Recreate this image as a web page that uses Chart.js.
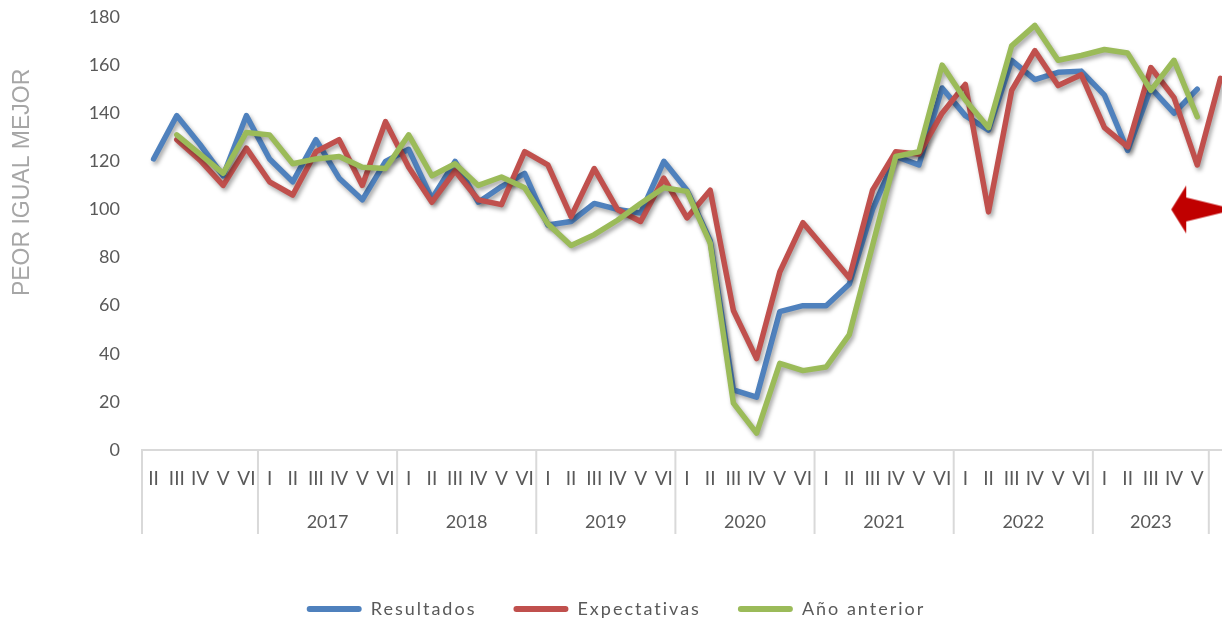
<!DOCTYPE html>
<html>
<head>
<meta charset="utf-8">
<script src="https://cdn.jsdelivr.net/npm/chart.js@4.4.0/dist/chart.umd.min.js"></script>
<style>
  html, body { margin: 0; padding: 0; background: #fff; overflow: hidden; }
</style>
</head>
<body>
<canvas id="grafico" width="1240" height="621"></canvas>
<script>
// Bimestres (I..VI) agrupados por año
const periodos = [
    'II', 'III', 'IV', 'V', 'VI',
    'I', 'II', 'III', 'IV', 'V', 'VI',
    'I', 'II', 'III', 'IV', 'V', 'VI',
    'I', 'II', 'III', 'IV', 'V', 'VI',
    'I', 'II', 'III', 'IV', 'V', 'VI',
    'I', 'II', 'III', 'IV', 'V', 'VI',
    'I', 'II', 'III', 'IV', 'V', 'VI',
    'I', 'II', 'III', 'IV', 'V',
    ''
];
const anios = ['', '2017', '2018', '2019', '2020', '2021', '2022', '2023', ''];
const tamGrupo = [5, 6, 6, 6, 6, 6, 6, 5, 1];

const resultados = [
    121, 139, 127, 114, 139,
    121, 111.5, 129, 113, 104, 120,
    125, 104.5, 120, 103, 109.5, 115,
    93.5, 95, 102.5, 100, 98.5, 120,
    108, 87, 25, 22, 57.5, 60,
    60, 69, 100, 122, 118.5, 150.5,
    139, 133, 162, 154, 157, 157.5,
    147.5, 124.5, 150.5, 140, 150,
    null
];
const expectativas = [
    null, 129, 120.5, 110, 125.5,
    111.5, 106, 124, 129, 110, 136.5,
    117.5, 103, 116, 104, 102, 124,
    118.5, 97, 117, 100, 95, 113,
    96.5, 108, 58, 38, 74, 94.5,
    83, 71.5, 108, 124, 123, 140,
    152, 99, 149.5, 166, 151.5, 156,
    134, 126, 159, 146.5, 118.5,
    154.5
];
const anioAnterior = [
    null, 131, 123, 115, 132,
    131, 119, 121, 122, 117.5, 117,
    131, 114, 119, 110, 113.5, 109,
    94, 85, 89.5, 95.5, 102.5, 109,
    107.5, 86, 19.5, 7, 36, 33,
    34.5, 48, 85, 122, 124, 160,
    145.5, 134, 168, 176.5, 162, 164,
    166.5, 165, 149.5, 162, 138.5,
    null
];

// Flecha de referencia (nivel 100 = igual)
const nivelReferencia = 100;
const posicionFlecha = 45;

const yTicks = { min: 0, max: 180, step: 20 };

const AZUL = '#4F81BD';
const ROJO = '#C0504D';
const VERDE = '#9BBB59';
const GRIS_TEXTO = '#595959';
const GRIS_EJE = '#D9D9D9';

Chart.defaults.font.family = 'Lato, "Open Sans", sans-serif';

// Centros de cada grupo de años (en unidades de categoría)
const centrosGrupo = [];
const bordesGrupo = [-0.5];
let acumulado = 0;
tamGrupo.forEach(n => {
    centrosGrupo.push(acumulado + (n - 1) / 2);
    acumulado += n;
    bordesGrupo.push(acumulado - 0.5);
});

const datosFlecha = periodos.map((_, i) => i === posicionFlecha ? nivelReferencia : null);

/**
 * Dibuja la punta de flecha roja como imagen para pointStyle
 */
function crearFlecha() {
    const c = document.createElement('canvas');
    c.width = 68;
    c.height = 52;
    const g = c.getContext('2d');
    const cx = 34, cy = 26;
    g.fillStyle = '#C00000';
    g.beginPath();
    g.moveTo(cx - 26, cy);
    g.lineTo(cx - 11, cy - 24);
    g.lineTo(cx - 11, cy - 12);
    g.lineTo(cx + 34, cy - 1);
    g.lineTo(cx + 34, cy + 1);
    g.lineTo(cx - 11, cy + 12);
    g.lineTo(cx - 11, cy + 24);
    g.closePath();
    g.fill();
    return c;
}

// Sombra suave bajo las líneas (como en Excel)
const sombraLineas = {
    id: 'sombraLineas',
    beforeDatasetDraw(chart, args) {
        if (args.index > 2) return;
        const ctx = chart.ctx;
        ctx.save();
        ctx.shadowColor = 'rgba(0, 0, 0, 0.35)';
        ctx.shadowBlur = 4;
        ctx.shadowOffsetX = 2;
        ctx.shadowOffsetY = 3;
    },
    afterDatasetDraw(chart, args) {
        if (args.index > 2) return;
        chart.ctx.restore();
    }
};

// Separadores verticales entre años en el eje de categorías
const separadoresAnio = {
    id: 'separadoresAnio',
    afterDraw(chart) {
        const x = chart.scales.x;
        const x2 = chart.scales.x2;
        const fondo = x.bottom + (x.bottom - x.top);
        const ctx = chart.ctx;
        ctx.save();
        ctx.strokeStyle = GRIS_EJE;
        ctx.lineWidth = 2;
        bordesGrupo.forEach(b => {
            const px = x2.getPixelForValue(b);
            ctx.beginPath();
            ctx.moveTo(px, x.top);
            ctx.lineTo(px, fondo);
            ctx.stroke();
        });
        ctx.restore();
    }
};

function serie(label, data, color, order) {
    return {
        label,
        data,
        borderColor: color,
        backgroundColor: color,
        borderWidth: 5.5,
        borderJoinStyle: 'round',
        borderCapStyle: 'round',
        pointRadius: 0,
        pointHoverRadius: 0,
        tension: 0,
        fill: false,
        order
    };
}

function sinMargen(s) {
    s.paddingLeft = 0;
    s.paddingRight = 0;
    s.paddingTop = 0;
    s.paddingBottom = 0;
}

const grafico = new Chart(document.getElementById('grafico'), {
    type: 'line',
    data: {
        labels: periodos,
        datasets: [
            serie('Resultados', resultados, AZUL, 3),
            serie('Expectativas', expectativas, ROJO, 2),
            serie('Año anterior', anioAnterior, VERDE, 1),
            {
                label: 'flecha',
                data: datosFlecha,
                showLine: false,
                pointStyle: crearFlecha(),
                pointRadius: 20,
                order: 0
            }
        ]
    },
    options: {
        responsive: false,
        animation: false,
        layout: { autoPadding: false, padding: { top: 17, right: 8, left: 0, bottom: 0 } },
        plugins: {
            tooltip: { enabled: false },
            legend: {
                position: 'bottom',
                maxHeight: 58,
                labels: {
                    boxWidth: 55,
                    boxHeight: 6,
                    useBorderRadius: true,
                    borderRadius: 3,
                    padding: 37,
                    color: GRIS_TEXTO,
                    font: { size: 18 },
                    generateLabels: chart => Chart.defaults.plugins.legend.labels.generateLabels(chart)
                        .filter(l => l.datasetIndex < 3)
                        .sort((a, b) => a.datasetIndex - b.datasetIndex)
                        .map(l => ({ ...l, lineWidth: 0, fillStyle: l.strokeStyle }))
                }
            }
        },
        scales: {
            y: {
                min: yTicks.min,
                max: yTicks.max,
                afterFit: s => { s.width = 142; sinMargen(s); },
                grid: { display: false, drawTicks: false },
                border: { display: false },
                ticks: {
                    stepSize: yTicks.step,
                    padding: 22,
                    color: GRIS_TEXTO,
                    font: { size: 18 }
                },
                title: {
                    display: true,
                    text: '\u00a0'.repeat(16) + 'PEOR IGUAL MEJOR',
                    color: '#A6A6A6',
                    font: { family: '"Liberation Sans", Arial, sans-serif', size: 23 },
                    padding: { top: 9, bottom: 0 }
                }
            },
            x: {
                offset: true,
                afterFit: s => { s.height = 42; sinMargen(s); },
                grid: { display: false, drawTicks: false },
                border: { display: true, color: GRIS_EJE, width: 2 },
                ticks: {
                    autoSkip: false,
                    maxRotation: 0,
                    minRotation: 0,
                    padding: 17,
                    color: GRIS_TEXTO,
                    font: { size: 19 }
                }
            },
            x2: {
                type: 'linear',
                position: 'bottom',
                min: -0.5,
                max: periodos.length - 0.5,
                afterBuildTicks: s => { s.ticks = centrosGrupo.map(v => ({ value: v })); },
                afterFit: s => { s.height = 71; sinMargen(s); },
                grid: { display: false, drawTicks: false },
                border: { display: false },
                ticks: {
                    autoSkip: false,
                    maxRotation: 0,
                    minRotation: 0,
                    padding: 19,
                    color: GRIS_TEXTO,
                    font: { size: 18 },
                    callback: (v, i) => anios[i]
                }
            }
        }
    },
    plugins: [sombraLineas, separadoresAnio]
});

// Espaciado de letras en la leyenda
const leyenda = grafico.legend;
['fit', 'draw'].forEach(m => {
    const original = leyenda[m].bind(leyenda);
    leyenda[m] = function (...args) {
        this.ctx.letterSpacing = '2px';
        const r = original(...args);
        this.ctx.letterSpacing = '0px';
        return r;
    };
});
grafico.update('none');
</script>
</body>
</html>
